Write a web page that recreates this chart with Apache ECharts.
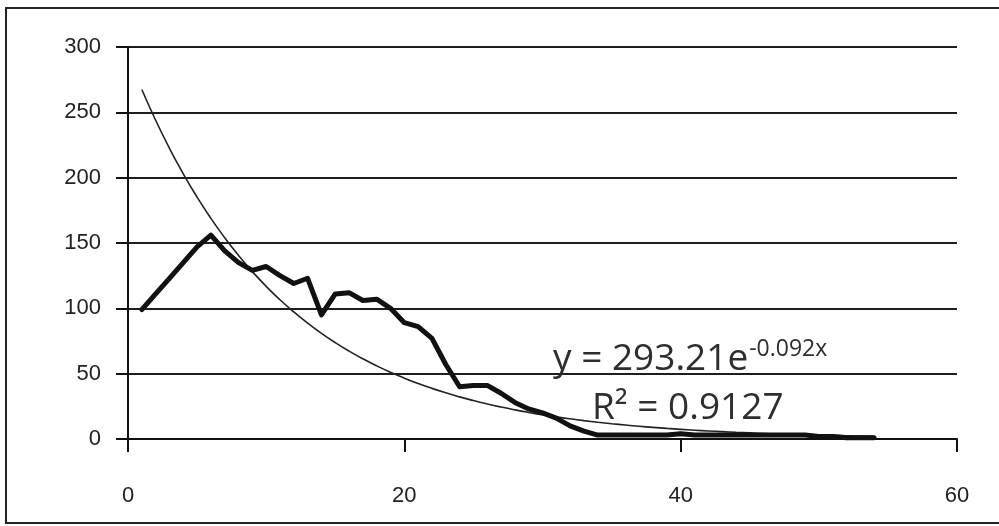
<!DOCTYPE html>
<html>
<head>
<meta charset="utf-8">
<title>Exponential trend</title>
<script src="https://cdn.jsdelivr.net/npm/echarts@6/dist/echarts.min.js"></script>
<style>
  html, body { margin: 0; padding: 0; background: #ffffff; }
  #chart { width: 999px; height: 526px; }
</style>
</head>
<body>
<div id="chart"></div>
<script>
// Observed counts at each x step
const xValues = [
  1, 2, 3, 4, 5, 6, 7, 8, 9, 10,
  11, 12, 13, 14, 15, 16, 17, 18, 19, 20,
  21, 22, 23, 24, 25, 26, 27, 28, 29, 30,
  31, 32, 33, 34, 35, 36, 37, 38, 39, 40,
  41, 42, 43, 44, 45, 46, 47, 48, 49, 50,
  51, 52, 53, 54
];
const yValues = [
  99, 111, 123, 135, 147, 156, 144, 135, 129, 132,
  125, 119, 123, 95, 111, 112, 106, 107, 100, 89,
  86, 77, 57, 40, 41, 41, 35, 28, 23, 20,
  16, 10, 6, 3, 3, 3, 3, 3, 3, 4,
  3, 3, 3, 3, 3, 3, 3, 3, 3, 2,
  2, 1, 1, 1
];

// Exponential trendline coefficients (y = A e^(k x)) and fit quality
const trendA = 293.21;
const trendK = -0.092;
const trendR2 = 0.9127;

// Axis ticks
const xTicks = [0, 20, 40, 60];
const yTicks = [0, 50, 100, 150, 200, 250, 300];

const observed = xValues.map((x, i) => [x, yValues[i]]);
const trend = xValues.map(x => [x, trendA * Math.exp(trendK * x)]);

const chart = echarts.init(document.getElementById('chart'), null, { renderer: 'canvas' });

const labelFont = { fontFamily: '"Liberation Sans", Arial, sans-serif', fontSize: 22, color: '#222' };

// Equation text: base part plus a raised exponent placed right after it
const eqFont = '37px "Open Sans", "Noto Sans", sans-serif';
const supFont = '23px "Open Sans", "Noto Sans", sans-serif';
const eqMain = 'y = ' + trendA.toFixed(2) + 'e';
const eqSup = '-' + Math.abs(trendK).toFixed(3) + 'x';
const measureCtx = document.createElement('canvas').getContext('2d');
measureCtx.font = eqFont;
const eqX = 553;
const eqMainWidth = measureCtx.measureText(eqMain).width;

chart.setOption({
  backgroundColor: '#ffffff',
  animation: false,
  grid: { left: 128, right: 42, top: 47, bottom: 87 },
  xAxis: {
    type: 'value',
    min: xTicks[0],
    max: xTicks[xTicks.length - 1],
    interval: xTicks[1] - xTicks[0],
    axisLine: { show: true, onZero: false, lineStyle: { color: '#111', width: 2 } },
    axisTick: { show: true, inside: false, length: 13, lineStyle: { color: '#111', width: 2 } },
    axisLabel: Object.assign({ margin: 46 }, labelFont),
    splitLine: { show: false }
  },
  yAxis: {
    type: 'value',
    min: yTicks[0],
    max: yTicks[yTicks.length - 1],
    interval: yTicks[1] - yTicks[0],
    axisLine: { show: true, lineStyle: { color: '#111', width: 2 } },
    axisTick: { show: true, inside: false, length: 12, lineStyle: { color: '#111', width: 2 } },
    axisLabel: Object.assign({ margin: 27 }, labelFont),
    splitLine: { show: true, lineStyle: { color: '#1e1e1e', width: 2 } }
  },
  series: [
    {
      name: 'Trend',
      type: 'line',
      data: trend,
      smooth: true,
      showSymbol: false,
      lineStyle: { color: '#222', width: 1.6 },
      z: 3
    },
    {
      name: 'Observed',
      type: 'line',
      data: observed,
      showSymbol: false,
      lineStyle: { color: '#111', width: 5, join: 'round', cap: 'round' },
      z: 4
    }
  ],
  graphic: [
    {
      type: 'rect',
      silent: true,
      shape: { x: 6, y: 8, width: 1010, height: 515 },
      style: { fill: 'none', stroke: '#222', lineWidth: 2 }
    },
    {
      type: 'text',
      silent: true,
      x: eqX, y: 359,
      style: {
        text: eqMain,
        font: eqFont,
        fill: '#2e2e2e',
        textAlign: 'left',
        textVerticalAlign: 'middle'
      },
      z: 10
    },
    {
      type: 'text',
      silent: true,
      x: eqX + eqMainWidth + 1, y: 349,
      style: {
        text: eqSup,
        font: supFont,
        fill: '#2e2e2e',
        textAlign: 'left',
        textVerticalAlign: 'middle'
      },
      z: 10
    },
    {
      type: 'text',
      silent: true,
      x: 592, y: 408,
      style: {
        text: 'R\u00B2 = ' + trendR2.toFixed(4),
        font: eqFont,
        fill: '#2e2e2e',
        textAlign: 'left',
        textVerticalAlign: 'middle'
      },
      z: 10
    }
  ]
});
</script>
</body>
</html>
